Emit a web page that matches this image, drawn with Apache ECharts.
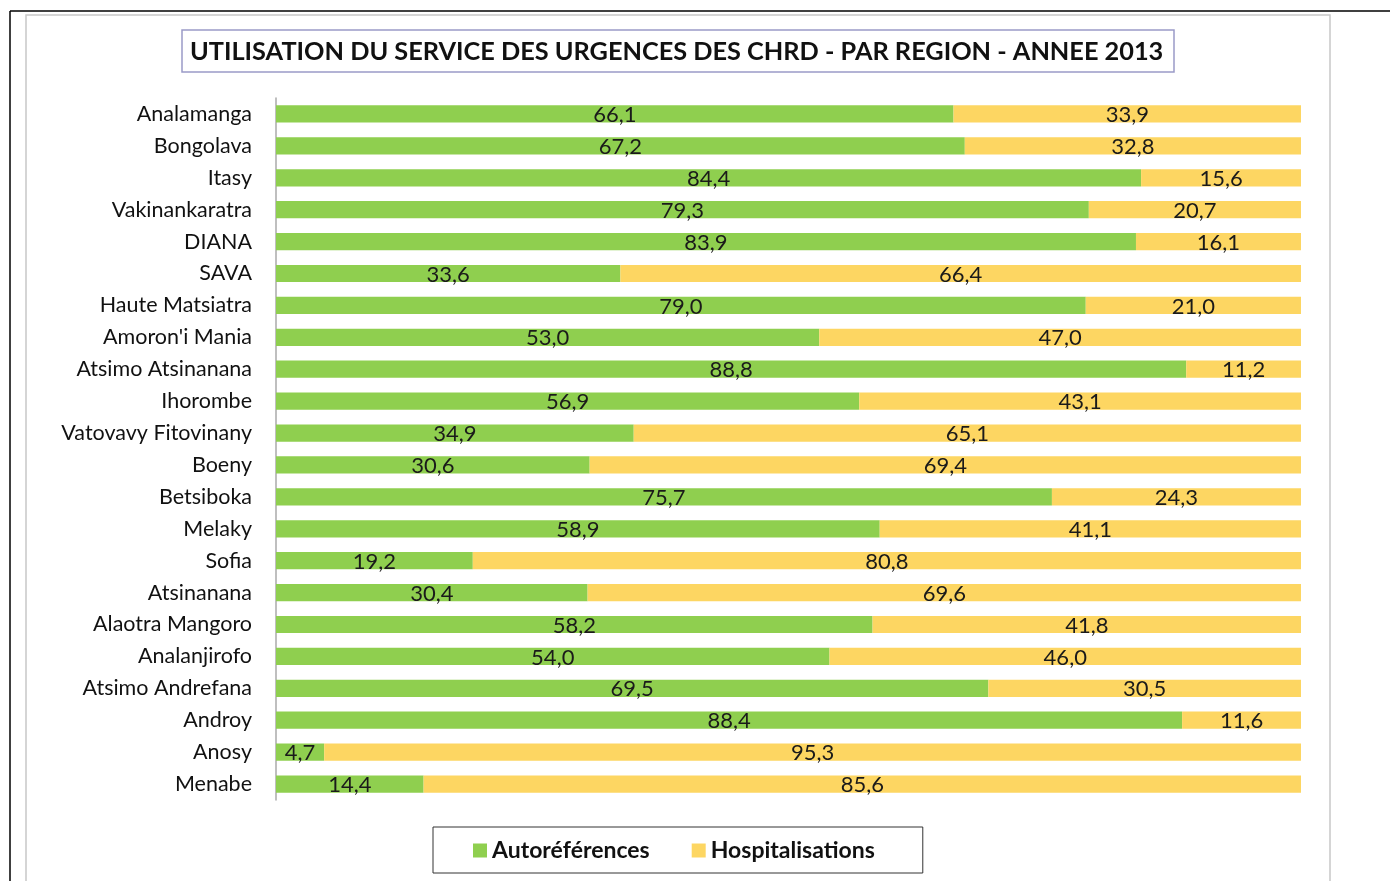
<!DOCTYPE html>
<html>
<head>
<meta charset="utf-8">
<script src="https://cdn.jsdelivr.net/npm/echarts@6/dist/echarts.min.js"></script>
<style>
  html, body { margin: 0; padding: 0; background: #fff; }
  #chart { width: 1390px; height: 881px; }
</style>
</head>
<body>
<div id="chart"></div>
<script>
// regions, top to bottom
var regions = ['Analamanga', 'Bongolava', 'Itasy', 'Vakinankaratra', 'DIANA', 'SAVA',
  'Haute Matsiatra', "Amoron'i Mania", 'Atsimo Atsinanana', 'Ihorombe', 'Vatovavy Fitovinany',
  'Boeny', 'Betsiboka', 'Melaky', 'Sofia', 'Atsinanana', 'Alaotra Mangoro', 'Analanjirofo',
  'Atsimo Andrefana', 'Androy', 'Anosy', 'Menabe']
var autoReferences = [66.1, 67.2, 84.4, 79.3, 83.9, 33.6, 79.0, 53.0, 88.8, 56.9, 34.9,
  30.6, 75.7, 58.9, 19.2, 30.4, 58.2, 54.0, 69.5, 88.4, 4.7, 14.4]
var hospitalisations = [33.9, 32.8, 15.6, 20.7, 16.1, 66.4, 21.0, 47.0, 11.2, 43.1, 65.1,
  69.4, 24.3, 41.1, 80.8, 69.6, 41.8, 46.0, 30.5, 11.6, 95.3, 85.6]
var seriesNames = ['Autoréférences', 'Hospitalisations']

var font = 'Lato, "Open Sans", sans-serif'

var myChart = echarts.init(document.getElementById('chart'))

// virgule décimale
function fmt (p) {
  return p.value.toFixed(1).replace('.', ',')
}

var option = {
  animation: false,
  textStyle: { fontFamily: font },
  title: {
    text: 'UTILISATION DU SERVICE DES URGENCES DES CHRD - PAR REGION - ANNEE 2013',
    left: 182,
    top: 30,
    padding: [9, 11, 8, 8],
    borderColor: '#9a9ac8',
    borderWidth: 1.5,
    textStyle: {
      fontFamily: font,
      fontSize: 25.3,
      fontWeight: 'bold',
      color: '#111'
    }
  },
  legend: {
    data: seriesNames,
    left: 433,
    top: 827,
    padding: [12, 48, 11, 40],
    itemGap: 42,
    itemWidth: 14,
    itemHeight: 14,
    icon: 'rect',
    borderColor: '#333',
    borderWidth: 1,
    textStyle: { fontFamily: font, fontSize: 23, fontWeight: 'bold', color: '#111' }
  },
  grid: {
    left: 276,
    right: 89,
    top: 98,
    bottom: 81
  },
  xAxis: {
    type: 'value',
    min: 0,
    max: 100,
    show: false
  },
  yAxis: {
    type: 'category',
    data: regions,
    inverse: true,
    axisTick: { show: false },
    axisLine: { lineStyle: { color: '#aaa', width: 1.5 } },
    axisLabel: { fontFamily: font, fontSize: 21.5, color: '#111', margin: 24 }
  },
  series: [
    {
      name: seriesNames[0],
      type: 'bar',
      stack: 'total',
      barWidth: '54%',
      data: autoReferences,
      itemStyle: { color: '#8fcf4f' },
      label: { show: true, position: 'inside', formatter: fmt, fontFamily: font, fontSize: 22, color: '#1a1a1a', offset: [0, 1] }
    },
    {
      name: seriesNames[1],
      type: 'bar',
      stack: 'total',
      barWidth: '54%',
      data: hospitalisations,
      itemStyle: { color: '#fdd662' },
      label: { show: true, position: 'inside', formatter: fmt, fontFamily: font, fontSize: 22, color: '#1a1a1a', offset: [0, 1] }
    }
  ],
  graphic: [
    // cadre extérieur
    { type: 'line', shape: { x1: 10, y1: 11, x2: 1390, y2: 11 }, style: { stroke: '#000', lineWidth: 1.5 }, silent: true },
    { type: 'line', shape: { x1: 10, y1: 11, x2: 10, y2: 881 }, style: { stroke: '#000', lineWidth: 1.5 }, silent: true },
    // cadre du graphique
    { type: 'rect', shape: { x: 26, y: 15, width: 1304, height: 880 }, style: { fill: 'none', stroke: '#c8c8c8', lineWidth: 1.5 }, silent: true, z: -1 }
  ]
}

myChart.setOption(option)
</script>
</body>
</html>
